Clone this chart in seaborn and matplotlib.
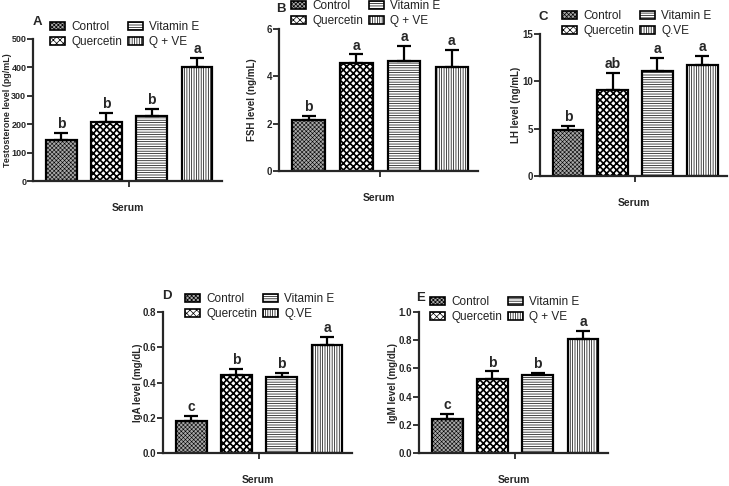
import numpy as np
import pandas as pd
import seaborn as sns
import matplotlib.pyplot as plt
from matplotlib.patches import Patch

sns.set_style("ticks")
plt.rcParams['font.family'] = ['Liberation Sans', 'DejaVu Sans']
plt.rcParams['hatch.linewidth'] = 0.5

# data (mean, upper error bar)
groups = ["Control", "Quercetin", "Vitamin E", "Q + VE"]

testo_mean = [144, 208, 229, 401]
testo_err = [25, 32, 24, 32]
testo_letters = ["b", "b", "b", "a"]

fsh_mean = [2.15, 4.58, 4.63, 4.38]
fsh_err = [0.19, 0.35, 0.65, 0.73]
fsh_letters = ["b", "a", "a", "a"]

lh_mean = [4.86, 9.08, 11.12, 11.7]
lh_err = [0.42, 1.82, 1.38, 1.0]
lh_letters = ["b", "ab", "a", "a"]

iga_mean = [0.18, 0.443, 0.433, 0.61]
iga_err = [0.03, 0.034, 0.023, 0.05]
iga_letters = ["c", "b", "b", "a"]

igm_mean = [0.24, 0.525, 0.55, 0.81]
igm_err = [0.04, 0.055, 0.02, 0.055]
igm_letters = ["c", "b", "b", "a"]

# hatch styles for the 4 groups
faces = ["#a8a8a8", "white", "white", "white"]
hatches = ["xxxxxxxx", "xxxxx", "-------", "|||||||"]
hatch_lw = [0.4, 1.2, 0.5, 0.5]

W, H = 729, 486
fig = plt.figure(figsize=(W / 100, H / 100), dpi=100)


def box(l, t, r, b):
    return [l / W, 1 - b / H, (r - l) / W, (b - t) / H]


def panel(rect, means, errs, letters, ylim, yticks, ylabel, letter, letter_xy,
          leg_xy, qlabel, ylab_off, ylab_size=7, tick_size=7):
    ax = fig.add_axes(box(*rect))
    df = pd.DataFrame({"group": groups, "value": means})
    sns.barplot(data=df, x="group", y="value", hue="group", palette=["white"] * 4,
                legend=False, width=0.68, edgecolor="black", linewidth=1.6,
                errorbar=None, ax=ax)
    for p, fc, h, hl in zip(ax.patches, faces, hatches, hatch_lw):
        p.set_facecolor(fc)
        p.set_hatch(h)
        if hasattr(p, "set_hatch_linewidth"):
            p.set_hatch_linewidth(hl)
    ax.errorbar(range(4), means, yerr=[np.zeros(4), errs], fmt="none",
                ecolor="black", elinewidth=1.6, capsize=5, capthick=1.6, zorder=5)
    pad = (ylim[1] - ylim[0]) * 0.012
    for i in range(4):
        ax.text(i, means[i] + errs[i] + pad, letters[i], ha="center", va="bottom",
                fontsize=10, fontweight="bold")
    ax.set_xlim(-0.62, 3.55)
    ax.set_ylim(*ylim)
    ax.set_yticks(yticks)
    ax.set_xticks([1.5])
    ax.set_xticklabels([""])
    ax.set_xlabel("")
    ax.set_ylabel(ylabel, fontsize=ylab_size, fontweight="bold")
    ax.yaxis.set_label_coords(ylab_off / (rect[2] - rect[0]), 0.5)
    for lab in ax.get_yticklabels():
        lab.set_fontweight("bold")
    ax.tick_params(axis="y", labelsize=tick_size, width=1.3, length=4, pad=0.8)
    ax.tick_params(axis="x", width=1.3, length=4)
    sns.despine(ax=ax)
    for s in ["left", "bottom"]:
        ax.spines[s].set_linewidth(1.6)
    ax.annotate("Serum", xy=(0.5, 0), xycoords="axes fraction",
                xytext=(0, -27 * 0.72), textcoords="offset points",
                ha="center", va="center", fontsize=7.5, fontweight="bold")
    fig.text(letter_xy[0] / W, 1 - letter_xy[1] / H, letter, ha="center",
             va="center", fontsize=9.5, fontweight="bold")
    labels = groups[:3] + [qlabel]
    handles = []
    for fc, h, hl, l in zip(faces, hatches, hatch_lw, labels):
        hp = Patch(facecolor=fc, edgecolor="black", hatch=h, linewidth=1.2, label=l)
        if hasattr(hp, "set_hatch_linewidth"):
            hp.set_hatch_linewidth(hl)
        handles.append(hp)
    fig.legend(handles=handles, loc="upper left",
               bbox_to_anchor=(leg_xy[0] / W, 1 - leg_xy[1] / H), ncol=2,
               frameon=False, fontsize=8.5, borderpad=0, borderaxespad=0,
               handlelength=1.3, handleheight=0.75, handletextpad=0.5,
               columnspacing=0.5, labelspacing=0.25, labelcolor="#222222")
    return ax


panel((33, 39, 222, 181), testo_mean, testo_err, testo_letters, (0, 500),
      [0, 100, 200, 300, 400, 500], "Testosterone level (pg/mL)", "A", (37, 22),
      (50, 21), "Q + VE", -21, ylab_size=6.4, tick_size=6.5)
panel((279, 29, 478, 171), fsh_mean, fsh_err, fsh_letters, (0, 6),
      [0, 2, 4, 6], "FSH level (ng/mL)", "B", (281, 9),
      (291, 0), "Q + VE", -22)
panel((540, 34, 727, 176), lh_mean, lh_err, lh_letters, (0, 15),
      [0, 5, 10, 15], "LH level (ng/mL)", "C", (543, 17),
      (562, 10), "Q.VE", -19)
panel((163, 312, 352, 453), iga_mean, iga_err, iga_letters, (0, 0.8),
      [0, 0.2, 0.4, 0.6, 0.8], "IgA level (mg/dL)", "D", (167, 296),
      (185, 293), "Q.VE", -20)
panel((419, 312, 608, 453), igm_mean, igm_err, igm_letters, (0, 1.0),
      [0, 0.2, 0.4, 0.6, 0.8, 1.0], "IgM level (mg/dL)", "E", (421, 298),
      (430, 296), "Q + VE", -21)

fig.savefig("out.png", dpi=100)
